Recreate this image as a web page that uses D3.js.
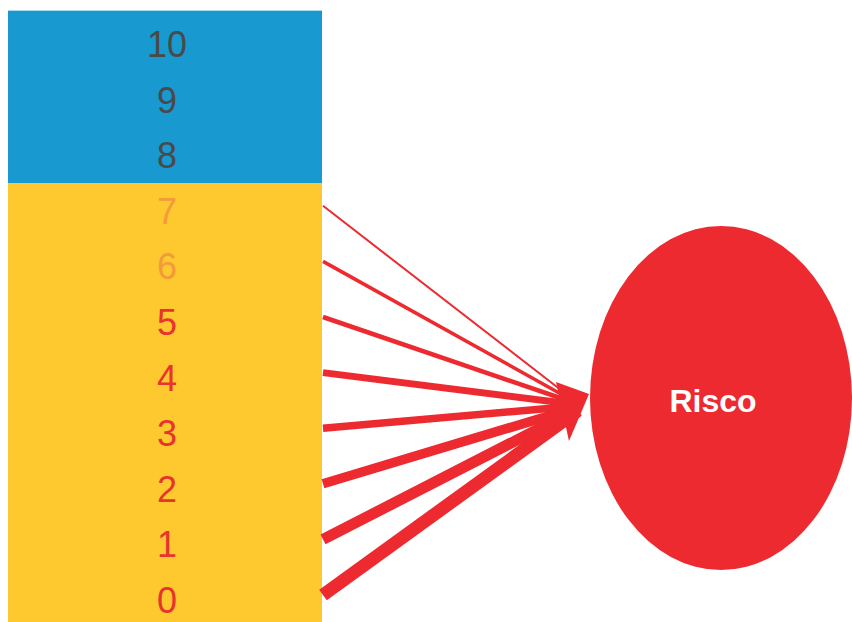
<!DOCTYPE html>
<html>
<head>
<meta charset="utf-8">
<script src="https://cdn.jsdelivr.net/npm/d3@7"></script>
<style>
html,body{margin:0;padding:0;background:#fff;}
svg{display:block;}
</style>
</head>
<body>
<script>
// Data
const levels = [0,1,2,3,4,5,6,7,8,9,10];
const safeLevels = [8,9,10];          // blue band
const riskLevels = [0,1,2,3,4,5,6,7]; // yellow band, linked to "Risco"
const linkWeights = [13,11,9.5,7.5,7,4.5,3.5,2]; // stroke weight for levels 0..7
const labelColors = ["#e8332e","#e8332e","#e8332e","#e8332e","#e8332e","#e8332e","#f39a3b","#f39a3b","#4a4a4a","#4a4a4a","#4a4a4a"];
const targetLabel = "Risco";

const W = 852, H = 622;
const svg = d3.select("body").append("svg").attr("width", W).attr("height", H);

const y = d3.scaleLinear().domain([0,10]).range([600,44]);
const step = y(0) - y(1);
const colX0 = 8, colX1 = 322;

// Bands
svg.append("rect").attr("x", colX0).attr("y", y(10) - step*0.6).attr("width", colX1-colX0)
   .attr("height", (y(8) + step/2) - (y(10) - step*0.6)).attr("fill", "#1899cf");
svg.append("rect").attr("x", colX0).attr("y", y(8) + step/2).attr("width", colX1-colX0)
   .attr("height", H - (y(8) + step/2)).attr("fill", "#fdc92f");

// Labels
svg.selectAll("text.lvl").data(levels).join("text")
  .attr("class","lvl")
  .attr("x", 167).attr("y", d => y(d))
  .attr("dy", "0.36em")
  .attr("text-anchor","middle")
  .attr("font-family","'Liberation Sans', Arial, sans-serif")
  .attr("font-size", 36)
  .attr("fill", d => labelColors[d])
  .text(d => d);

// Ellipse
const ex = 721, ey = 398, rx = 131, ry = 172;
svg.append("ellipse").attr("cx", ex).attr("cy", ey).attr("rx", rx).attr("ry", ry).attr("fill", "#ec2a30");
svg.append("text").attr("x", 713).attr("y", 401).attr("dy","0.35em")
  .attr("text-anchor","middle")
  .attr("font-family","'Liberation Sans', Arial, sans-serif")
  .attr("font-weight","bold").attr("font-size", 32).attr("fill","#fff")
  .text(targetLabel);

// Links
const tx = 578, ty = 400;
svg.selectAll("line.link").data(riskLevels).join("line")
  .attr("class","link")
  .attr("x1", colX1 + 1).attr("y1", d => y(d) - 5)
  .attr("x2", d => tx - d*0.6).attr("y2", d => ty + (7-d)*1.5)
  .attr("stroke", "#ec2a30")
  .attr("stroke-width", d => linkWeights[d]);

// Arrowhead
const tip = [589, 394];
svg.append("path")
  .attr("d", d3.line()([tip, [556, 382], [569, 441]]) + "Z")
  .attr("fill", "#ec2a30");
</script>
</body>
</html>
